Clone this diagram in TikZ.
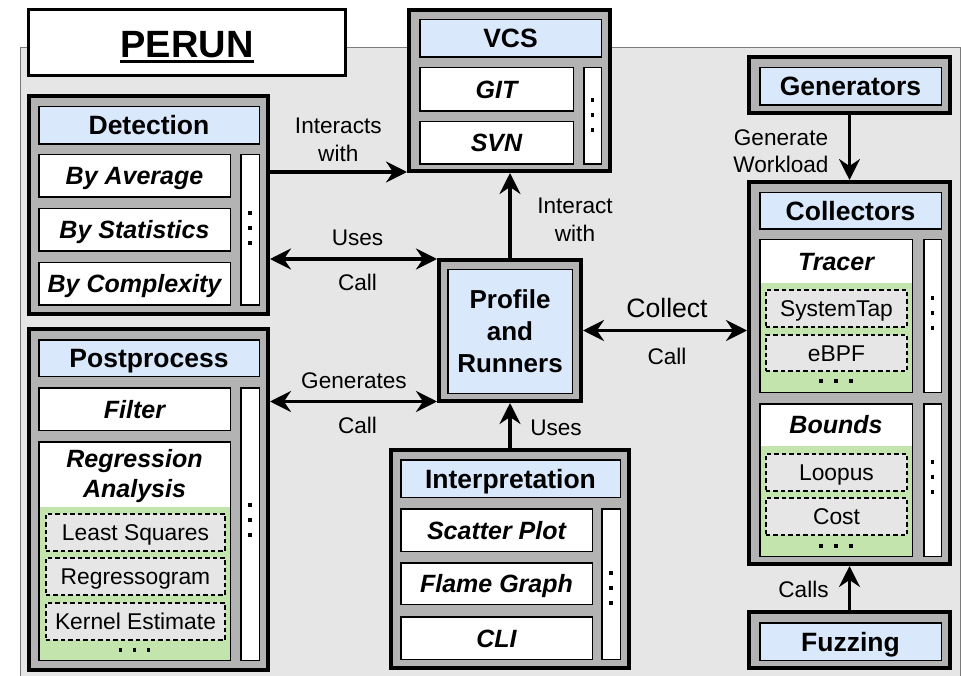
\documentclass[tikz,border=0pt]{standalone}
\usepackage{fontspec}
\setmainfont{Liberation Sans}
\usetikzlibrary{arrows.meta}

\definecolor{bg}{HTML}{E6E6E6}
\definecolor{edgegray}{HTML}{7A7A7A}
\definecolor{panelgray}{HTML}{B3B3B3}
\definecolor{hdrblue}{HTML}{DAE8FC}
\definecolor{subgreen}{HTML}{C3E5AD}

% font sizes
\newcommand\fHdr{\fontsize{26.5}{31}\selectfont\bfseries}
\newcommand\fItem{\fontsize{25}{29.5}\selectfont\bfseries\itshape}
\newcommand\fSub{\fontsize{22.8}{27}\selectfont}
\newcommand\fLbl{\fontsize{22.6}{28}\selectfont}

% underlined title with a heavy rule
\newcommand\heavyul[1]{{\setbox0=\hbox{#1}\rlap{\rule[-5.5pt]{\wd0}{3pt}}\box0}}

\tikzset{
  panel/.style={draw=black, line width=4pt, fill=panelgray, inner sep=0pt},
  hdr/.style={draw=black, line width=1.5pt, fill=hdrblue, inner sep=0pt,
    font=\fHdr, text height=21pt, text depth=2pt},
  item/.style={draw=black, line width=1.5pt, fill=white, inner sep=0pt,
    font=\fItem, text height=20pt, text depth=2pt},
  dotcol/.style={draw=black, line width=1.5pt, fill=white, inner sep=0pt},
  sub/.style={draw=black, line width=1.8pt, dash pattern=on 4.5pt off 3pt,
    fill=bg, inner sep=0pt, font=\fSub, text height=18pt, text depth=2pt},
  core/.style={draw=black, line width=1.5pt, fill=hdrblue, inner sep=0pt,
    font=\fontsize{26}{32}\selectfont\bfseries, align=center},
  ttl/.style={font=\fItem, inner sep=0pt, align=center},
  lbl/.style={font=\fLbl, align=center, inner sep=0pt},
  tip/.tip={Stealth[length=21pt, width=21pt, inset=7pt]},
  link/.style={line width=3.2pt, -tip},
  dlink/.style={line width=3.2pt, tip-tip},
  greenbelow/.style={path picture={\fill[subgreen]
    ([yshift=-#1]path picture bounding box.north west) rectangle
    (path picture bounding box.south east);}},
}

% panel with a heavy frame: name, x1, y1, x2, y2 (outer edges)
\newcommand\pnl[5]{\node[panel, minimum width={#4-#2-4}, minimum height={#5-#3-4}]
  (#1) at ({(#2+#4)/2},{(#3+#5)/2}) {};}
% inner cell: name, style, x1, y1, x2, y2, text
\newcommand\cel[7]{\node[#2, minimum width={#5-#3-1.5}, minimum height={#6-#4-1.5}]
  (#1) at ({(#3+#5)/2},{(#4+#6)/2}) {#7};}
% three stacked dots / three dots in a row
\newcommand\colDots[2]{\foreach \k in {-15,0,15}{\fill (#1-1.7,#2+\k-1.7) rectangle ++(3.4,3.4);}}
\newcommand\rowDots[3]{\foreach \k in {-1,0,1}{\fill (#1+#3*\k-1.7,#2-1.7) rectangle ++(3.4,3.4);}}

\begin{document}
\begin{tikzpicture}[x=1pt, y=-1pt]
\useasboundingbox (0,0) rectangle (961,676);

% backdrop
\fill[bg] (20,48) rectangle (960,676);
\draw[line width=1pt, edgegray] (20,676) -- (20,48) -- (960,48) -- (960,676);

% title
\node[draw=black, line width=3pt, fill=white, inner sep=0pt,
  minimum width={347-27-3}, minimum height={77-8-3},
  font=\fontsize{38}{40}\selectfont\bfseries, text height=31pt, text depth=0pt]
  (perun) at (187,42.5) {\heavyul{PERUN}};

% panels
\pnl{det}{27}{94}{270}{316}
\pnl{vcs}{407}{8}{612}{173}
\pnl{gen}{747}{55}{952}{115}
\pnl{coll}{747}{180}{952}{566}
\pnl{fuzz}{747}{610}{952}{670}
\pnl{prof}{437}{258}{583}{403}
\pnl{interp}{389}{448}{631}{670}
\pnl{post}{27}{327}{270}{672}

% Detection
\cel{detH}{hdr}{38}{106}{260}{145}{Detection}
\cel{detA}{item}{38}{154}{231}{198}{By Average}
\cel{detS}{item}{38}{208}{231}{252}{By Statistics}
\cel{detC}{item}{38}{262}{231}{306}{By Complexity}
\cel{detD}{dotcol}{240}{154}{260}{306}{}
\colDots{250}{228}

% VCS
\cel{vcsH}{hdr}{419}{19}{602}{58}{VCS}
\cel{vcsGit}{item}{419}{67}{574}{112}{GIT}
\cel{vcsSvn}{item}{419}{121}{574}{165}{SVN}
\cel{vcsD}{dotcol}{583}{67}{602}{165}{}
\colDots{592.5}{115}

% Generators
\cel{genH}{hdr}{759}{67}{942}{106}{Generators}

% Collectors
\cel{collH}{hdr}{759}{192}{942}{230}{Collectors}
\cel{tracer}{item, greenbelow=43.3pt}{759}{239}{913}{393}{}
\node[ttl] (tracerT) at (836,262.5) {Tracer};
\cel{stap}{sub}{765}{289}{908}{328}{SystemTap}
\cel{ebpf}{sub}{765}{334}{908}{372}{eBPF}
\rowDots{836}{381}{15}
\cel{tracerD}{dotcol}{923}{239}{942}{393}{}
\colDots{932.5}{313}
\cel{bounds}{item, greenbelow=42.3pt}{759}{403}{913}{557}{}
\node[ttl] (boundsT) at (836,425) {Bounds};
\cel{loopus}{sub}{765}{453}{908}{492}{Loopus}
\cel{cost}{sub}{765}{497}{908}{536}{Cost}
\rowDots{836}{546}{15}
\cel{boundsD}{dotcol}{923}{403}{942}{557}{}
\colDots{932.5}{477}

% Fuzzing
\cel{fuzzH}{hdr}{759}{622}{942}{661}{Fuzzing}

% Profile and Runners
\cel{profIn}{core}{447}{269}{573}{394}{Profile\\and\\Runners}

% Interpretation
\cel{interpH}{hdr}{400}{459}{621}{498}{Interpretation}
\cel{scatter}{item}{400}{508}{593}{552}{Scatter Plot}
\cel{flame}{item}{400}{562}{593}{605}{Flame Graph}
\cel{cli}{item}{400}{616}{593}{660}{CLI}
\cel{interpD}{dotcol}{601}{508}{621}{660}{}
\colDots{611}{588}

% Postprocess
\cel{postH}{hdr}{38}{339}{260}{377}{Postprocess}
\cel{filter}{item}{38}{387}{231}{431}{Filter}
\cel{regr}{item, greenbelow=65.3pt}{38}{441}{231}{661}{}
\node[ttl] (regrT) at (134.5,476) {Regression\\Analysis};
\cel{lsq}{sub}{45}{513}{226}{552}{Least Squares}
\cel{rgram}{sub}{45}{557}{226}{596}{Regressogram}
\cel{kern}{sub}{45}{602}{226}{641}{Kernel Estimate}
\rowDots{134.5}{650}{14}
\cel{postD}{dotcol}{240}{387}{260}{661}{}
\colDots{250}{520}

% connector heights
\coordinate (yA) at (0,172);
\coordinate (yB) at (0,259);
\coordinate (yC) at (0,401.5);

% connectors
\draw[link] (det.east |- yA) -- (vcs.west |- yA);
\draw[dlink] (det.east |- yB) -- (prof.west |- yB);
\draw[dlink] (post.east |- yC) -- (prof.west |- yC);
\draw[link] (prof.north) -- (prof.north |- vcs.south);
\draw[dlink] (prof.east) -- (prof.east -| coll.west);
\draw[link] (interp.north) -- (interp.north |- prof.south);
\draw[link] (gen.south) -- (coll.north);
\draw[link] (fuzz.north) -- (coll.south);

% connector labels
\node[lbl] (lInteracts) at (338.3,140) {Interacts\\with};
\node[lbl] (lUses1) at (357.5,237.5) {Uses};
\node[lbl] (lCall1) at (357.5,282.5) {Call};
\node[lbl] (lGenerates) at (354,380.5) {Generates};
\node[lbl] (lCall2) at (357.5,425.5) {Call};
\node[lbl] (lInteract) at (575,220) {Interact\\with};
\node[lbl, font=\fontsize{26.6}{30}\selectfont] (lCollect) at (667,308) {Collect};
\node[lbl] (lCall3) at (667,356) {Call};
\node[lbl] (lUses2) at (556,427.5) {Uses};
\node[lbl, font=\fontsize{22.6}{26.5}\selectfont] (lWorkload) at (781,151) {Generate\\Workload};
\node[lbl] (lCalls) at (803.5,589) {Calls};
\end{tikzpicture}
\end{document}
